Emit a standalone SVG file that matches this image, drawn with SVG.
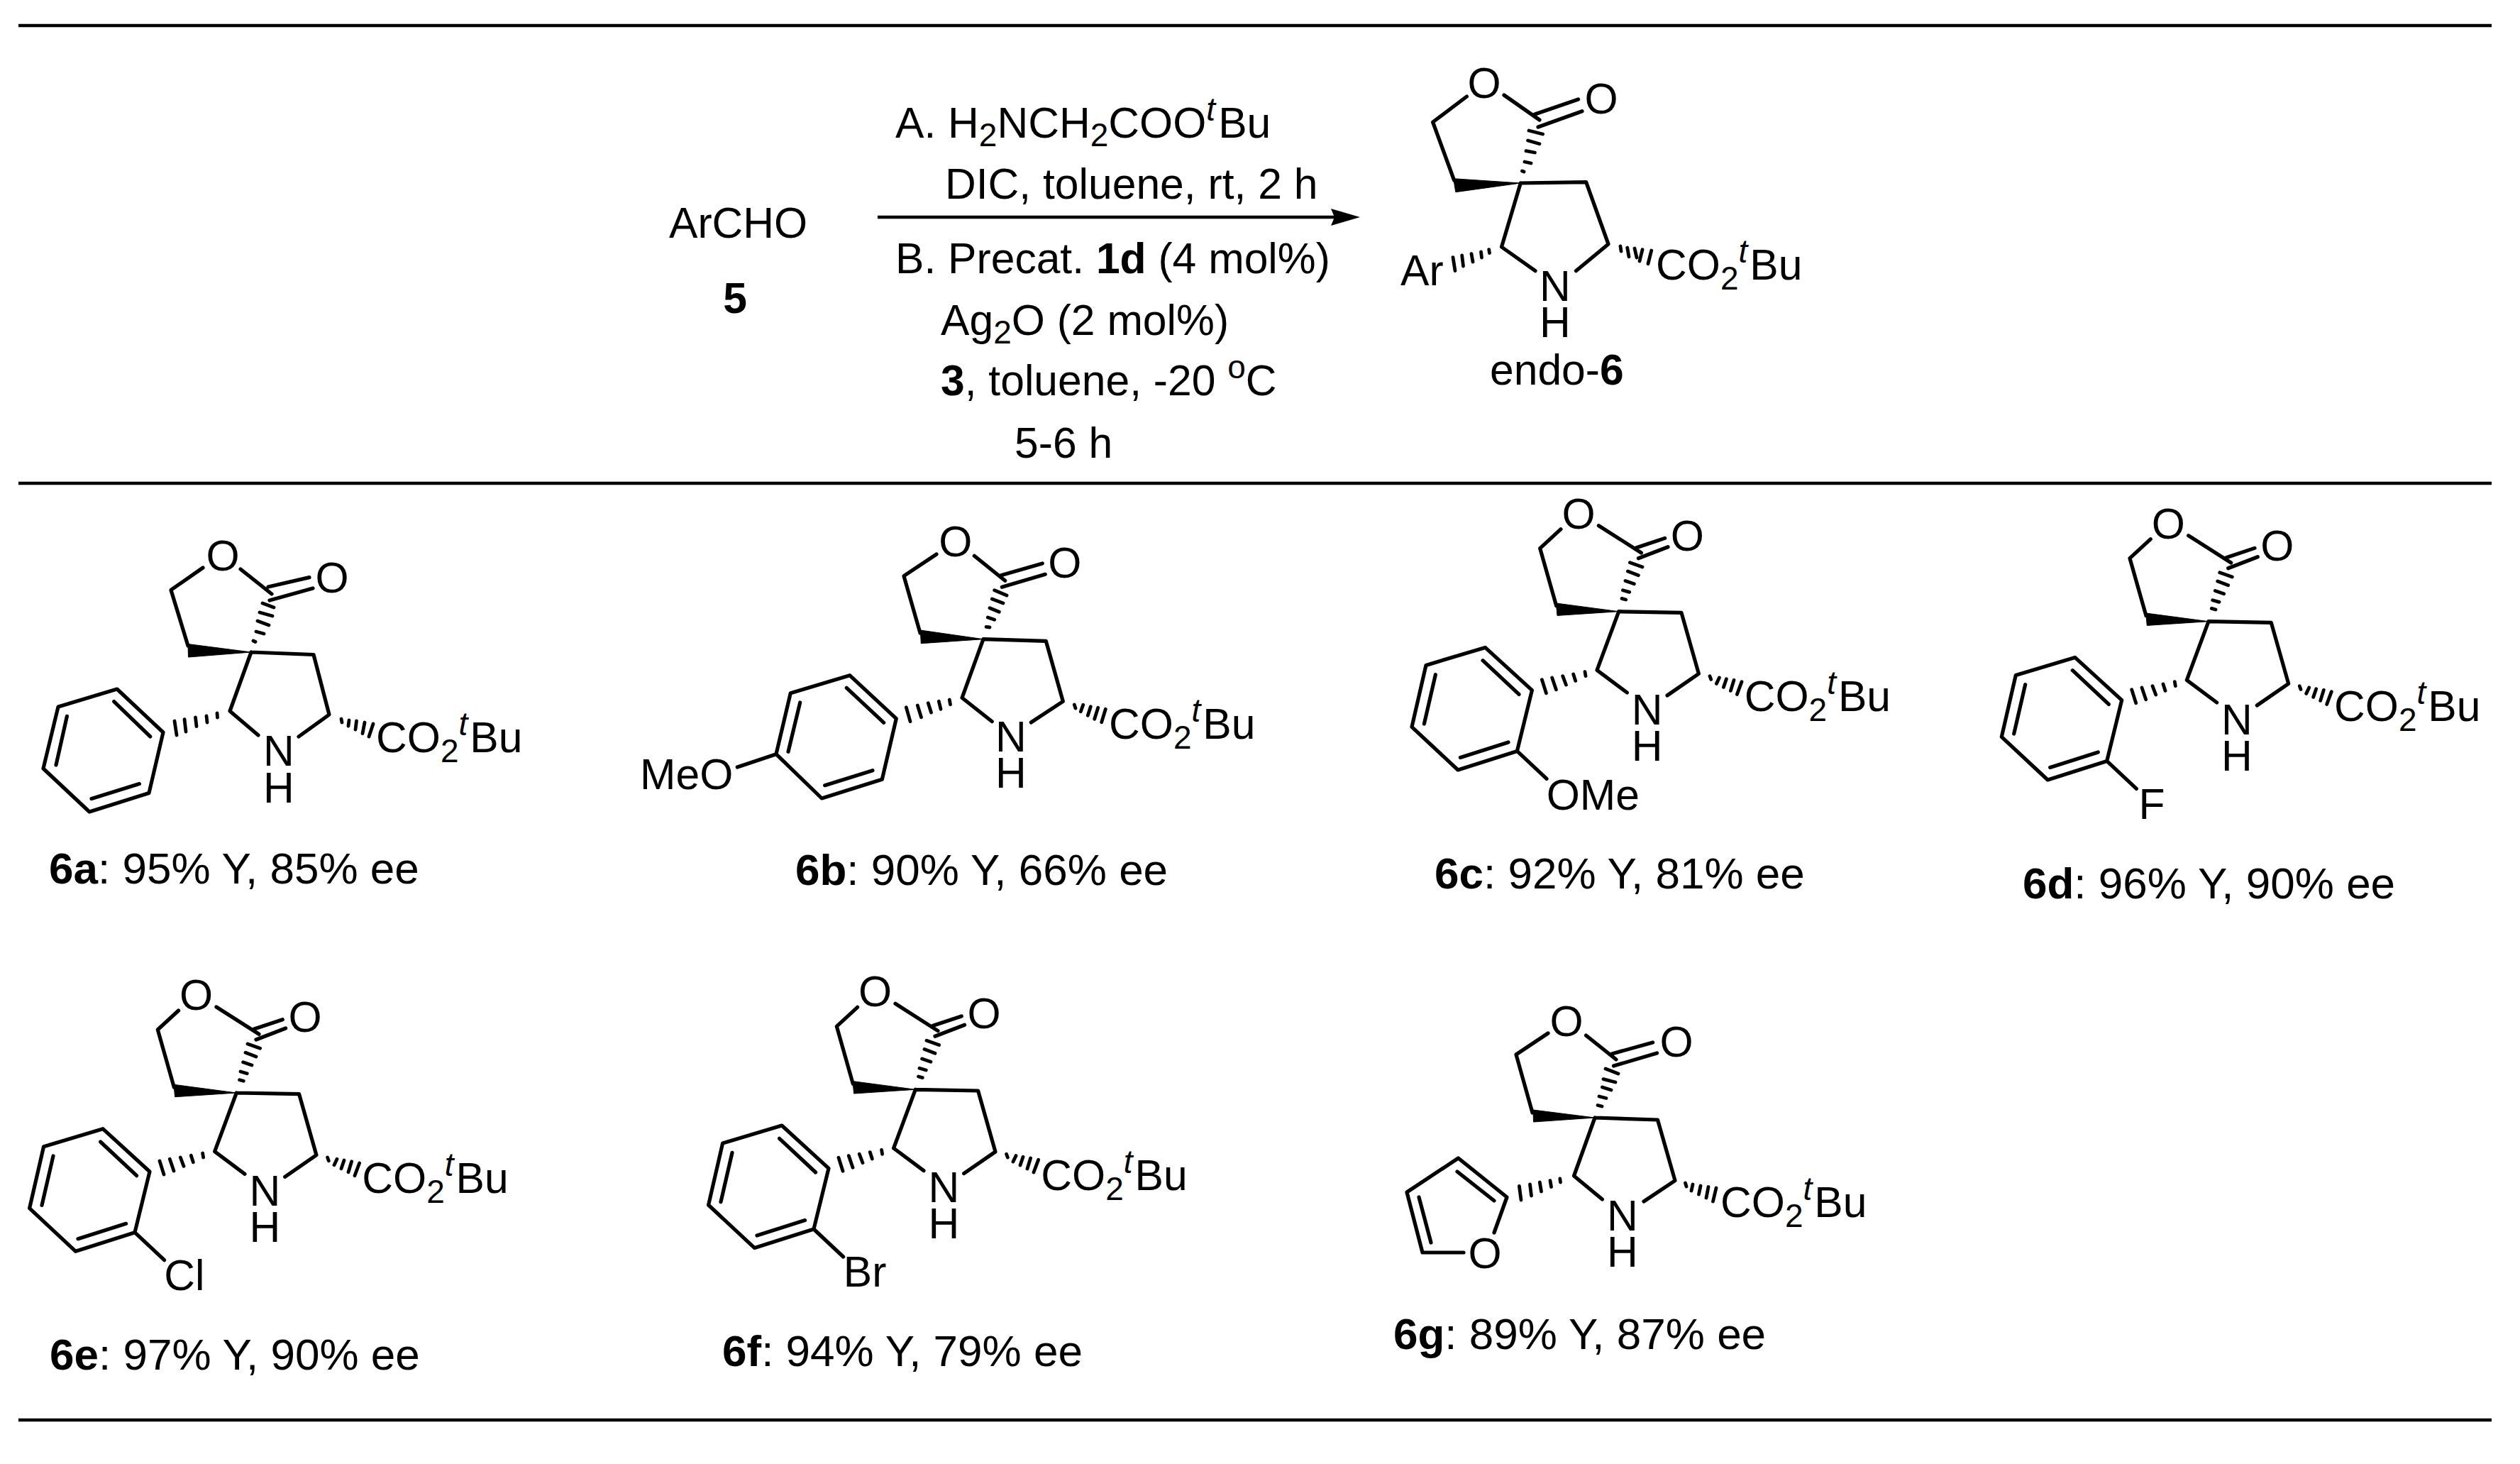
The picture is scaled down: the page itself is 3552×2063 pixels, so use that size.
<svg xmlns="http://www.w3.org/2000/svg" xmlns:xlink="http://www.w3.org/1999/xlink" width="3552" height="2063" viewBox="0 0 3552 2063">
<style>
text{font-family:"Liberation Sans",Arial,sans-serif;font-size:60.6px;fill:#000}
.m{text-anchor:middle}
.s{font-size:46px}
.i{font-size:46px;font-style:italic}
.bd{font-weight:bold}
.l{font-size:62px}
.b{fill:none;stroke:#000;stroke-width:5.2;stroke-linecap:round;stroke-linejoin:round}
.h{fill:none;stroke:#000;stroke-width:4.8;stroke-linecap:round}
.w{fill:#000;stroke:#000;stroke-width:1;stroke-linejoin:round}
.r{stroke:#000;stroke-width:4.4;fill:none}
.a{stroke:#000;stroke-width:4.6;fill:none}
</style>
<defs>
<marker id="ah" markerUnits="userSpaceOnUse" markerWidth="44" markerHeight="28" refX="9" refY="14" orient="auto"><path d="M0,2 L41,14 L0,26 L5,14 Z" fill="#000"/></marker>
<g id="core">
<path class="b" d="M-81.7,-116 L-111,-89 L-88,-8"/>
<polygon class="w" points="-88.3,-11.7 -86.7,5.7 0,0"/>
<path class="b" d="M0,0 L88.3,1.7 L112.7,87.7 L68.3,118.3 M0,0 L-30.7,82.7 L11.7,114.3 M-28.3,-121 L31.7,-82.7 M25,-90 L65,-103.3 M27.7,-75 L69.3,-91"/>
<path class="h" d="M4.3,-18.3 L10,-16.7 M5.7,-30 L15,-27.3 M9.3,-43.3 L21.7,-39 M12.7,-56.7 L27.7,-51 M15.7,-69 L33.3,-62.7"/>
<path class="h" d="M-47.7,85 L-46.7,91 M-64,88.3 L-61,97.7 M-79,91 L-74.3,103.3 M-94,93.3 L-88.3,110 M-108.3,96 L-102.3,115"/>
<path class="h" d="M128.3,91 L130,95.7 M141.7,93.3 L137.7,101.7 M151.7,95 L147.7,106.7 M162.3,96.7 L157.7,111.7 M173.3,99 L166.7,116.7"/>
<path class="b" d="M-122.3,111 L-188.3,50.7 L-271.7,75.7 L-291.7,162.7 L-226.7,223.3 L-143.3,196.7 Z M-191.7,69 L-140.7,116.7 M-258.3,89 L-274.3,158.3 M-223.3,205.7 L-155.7,184.3 M-143.3,196.7 L-101.7,235.7"/>
</g>
</defs>
<rect width="3552" height="2063" fill="#fff"/>

<g id="connectors">
<path class="r" d="M26,36 H3512 M26,681 H3512 M26,2001 H3512"/>
<path class="a" d="M1237,306 H1885" marker-end="url(#ah)"/>
</g>

<g id="reagent-5">
<text x="943" y="335">ArCHO</text>
<text class="m bd" x="1036" y="441">5</text>
</g>
<g id="conditions">
<text x="1262" y="194">A. H<tspan class="s" dy="12">2</tspan><tspan dy="-12">NCH</tspan><tspan class="s" dy="12">2</tspan><tspan dy="-12">COO</tspan><tspan class="i" dy="-24">t</tspan><tspan dy="24" dx="4">Bu</tspan></text>
<text x="1332" y="280">DIC, toluene, rt, 2 h</text>
<text x="1262" y="385">B. Precat. <tspan class="bd">1d</tspan> (4 mol%)</text>
<text x="1326" y="472">Ag<tspan class="s" dy="12">2</tspan><tspan dy="-12">O (2 mol%)</tspan></text>
<text x="1326" y="557"><tspan class="bd">3</tspan>, toluene, -20 <tspan class="s" dy="-24">o</tspan><tspan dy="24">C</tspan></text>
<text x="1430" y="645">5-6 h</text>
</g>

<g id="endo-6">
<path class="b" d="M2067.4,136 L2019.6,172 L2049.6,254"/>
<polygon class="w" points="2048.7,251.7 2051.8,270.7 2143.3,258"/>
<path class="b" d="M2143.3,258 L2235.7,256.7 L2267,344 L2221.4,381.7 M2143.3,258 L2116.5,348 L2164,381.7 M2120,134 L2170,169 M2163.4,161 L2224.6,140 M2168,179 L2230,156.7"/>
<path class="h" d="M2145.5,241 L2148,242 M2149,228 L2158,230 M2151,212.7 L2163.4,215 M2153.6,198 L2170,202.7 M2155,184 L2174.6,189"/>
<path class="h" d="M2098.7,351.7 L2099.5,356.7 M2087.5,355 L2088.5,363 M2074,357.7 L2076,369 M2060.7,360 L2062.5,375 M2048,362.7 L2051,381.7"/>
<path class="h" d="M2284,347 L2285,354 M2293.7,349 L2296,361.7 M2304,350 L2307,363 M2315,351.7 L2311,368 M2327.7,353 L2323,371.7"/>
<text class="m" x="2092" y="138">O</text>
<text class="m" x="2257" y="160">O</text>
<text x="1974" y="402">Ar</text>
<text class="m" x="2192" y="424">N</text>
<text class="m" x="2192" y="475">H</text>
<text x="2334" y="394">CO<tspan class="s" dy="14">2</tspan><tspan class="i" dy="-38">t</tspan><tspan dy="24" dx="3">Bu</tspan></text>
<text x="2100" y="542">endo-<tspan class="bd">6</tspan></text>
</g>

<g id="compound-6a">
<path class="b" d="M286,800 L241,831.4 L265,910"/>
<polygon class="w" points="265,907.5 265.5,926 354,919"/>
<path class="b" d="M354,919 L442,922.5 L464,1007 L421,1038 M354,919 L324,1002 L364,1036 M339,802 L383,837 M378,827 L436,813.6 M380,846 L441,829"/>
<path class="h" d="M357,903 L360,904.5 M361,890 L372,893 M363,875 L379,881 M366,863 L384,868 M370,850 L386,856"/>
<path class="h" d="M306,1005 L306.5,1011 M291,1009 L292,1018 M275.5,1011 L277,1023.6 M260,1013.6 L262,1031 M246,1016 L249,1036"/>
<path class="h" d="M481,1013 L482,1018 M492,1015 L491,1023 M502.5,1016 L501,1028 M514,1018 L511,1033.6 M526,1020 L520,1038"/>
<path class="b" d="M230,1032 L165,971 L82,996 L61,1083 L126,1144 L210,1117.5 Z M160.7,988.6 L211.7,1037.9 M94.4,1009.3 L79,1078 M129,1125.4 L196.4,1104.6"/>
<text class="m" x="314" y="804">O</text>
<text class="m" x="468" y="835">O</text>
<text class="m" x="393" y="1079">N</text>
<text class="m" x="393" y="1131">H</text>
<text x="530" y="1060">CO<tspan class="s" dy="14">2</tspan><tspan class="i" dy="-38">t</tspan><tspan dy="24" dx="3">Bu</tspan></text>
<text class="l" x="69" y="1245"><tspan class="bd">6a</tspan>: 95% Y, 85% ee</text>
</g>

<g id="compound-6b">
<path class="b" d="M1320,781 L1274,811.7 L1297,892"/>
<polygon class="w" points="1297.3,888 1298.3,906.7 1386,900.7"/>
<path class="b" d="M1386,900.7 L1474.3,903.3 L1498.3,988.3 L1453.3,1018 M1386,900.7 L1356,983.3 L1398.3,1016.7 M1373.3,783.3 L1416.7,818.3 M1411,810.7 L1469.3,794 M1412.3,827.3 L1473.3,809.3"/>
<path class="h" d="M1390,883.3 L1395,884 M1392.3,870 L1401.7,873.3 M1395,856.7 L1408.3,862.3 M1398.3,844 L1414,850 M1401.7,831.7 L1419,839"/>
<path class="h" d="M1338.3,986 L1339.5,992.7 M1323.3,988.3 L1326,999.3 M1308.3,990.7 L1312.5,1004 M1293.3,994 L1298.5,1010.7 M1277.3,996.7 L1283,1016.7"/>
<path class="h" d="M1514.3,993 L1516,998 M1526.7,993.3 L1523.3,1002.7 M1537.3,995.7 L1533.3,1008.3 M1547.7,997.3 L1542.7,1013.3 M1558.3,999.3 L1552.7,1017.7"/>
<path class="b" d="M1263.3,1012.7 L1197.7,951.7 L1114.3,976.7 L1094,1062.7 L1158.3,1125 L1243.3,1098.3 Z M1193.3,969.3 L1245.7,1018.3 M1127.7,990 L1111,1059.3 M1162.7,1106.7 L1230,1085.7 M1094,1062.7 L1039.3,1081"/>
<text class="m" x="1346.7" y="784">O</text>
<text class="m" x="1500.7" y="814">O</text>
<text class="m" x="1425" y="1059">N</text>
<text class="m" x="1425" y="1110">H</text>
<text x="902" y="1112">MeO</text>
<text x="1563" y="1041">CO<tspan class="s" dy="14">2</tspan><tspan class="i" dy="-38">t</tspan><tspan dy="24" dx="3">Bu</tspan></text>
<text class="l" x="1121" y="1247"><tspan class="bd">6b</tspan>: 90% Y, 66% ee</text>
</g>

<g id="compound-6c">
<use href="#core" xlink:href="#core" x="2281.7" y="861.7"/>
<text class="m" x="2225" y="744.7">O</text>
<text class="m" x="2378.4" y="775.7">O</text>
<text class="m" x="2321.7" y="1020.7">N</text>
<text class="m" x="2321.7" y="1071.7">H</text>
<text x="2179.7" y="1140.7">OMe</text>
<text x="2458.7" y="1001.7">CO<tspan class="s" dy="14">2</tspan><tspan class="i" dy="-38">t</tspan><tspan dy="24" dx="3">Bu</tspan></text>
<text class="l" x="2022" y="1252"><tspan class="bd">6c</tspan>: 92% Y, 81% ee</text>
</g>

<g id="compound-6d">
<use href="#core" xlink:href="#core" x="3113" y="875.7"/>
<text class="m" x="3056.3" y="758.7">O</text>
<text class="m" x="3209.7" y="789.7">O</text>
<text class="m" x="3153" y="1034.7">N</text>
<text class="m" x="3153" y="1085.7">H</text>
<text x="3014.5" y="1153.7">F</text>
<text x="3290" y="1015.7">CO<tspan class="s" dy="14">2</tspan><tspan class="i" dy="-38">t</tspan><tspan dy="24" dx="3">Bu</tspan></text>
<text class="l" x="2851" y="1266"><tspan class="bd">6d</tspan>: 96% Y, 90% ee</text>
</g>

<g id="compound-6e">
<use href="#core" xlink:href="#core" x="333.3" y="1540"/>
<text class="m" x="276.6" y="1423">O</text>
<text class="m" x="430" y="1454">O</text>
<text class="m" x="373.3" y="1699">N</text>
<text class="m" x="373.3" y="1750">H</text>
<text x="231.3" y="1818">Cl</text>
<text x="510.3" y="1681">CO<tspan class="s" dy="14">2</tspan><tspan class="i" dy="-38">t</tspan><tspan dy="24" dx="3">Bu</tspan></text>
<text class="l" x="70" y="1930"><tspan class="bd">6e</tspan>: 97% Y, 90% ee</text>
</g>

<g id="compound-6f">
<use href="#core" xlink:href="#core" x="1290.3" y="1535.3"/>
<text class="m" x="1233.6" y="1418.3">O</text>
<text class="m" x="1387" y="1449.3">O</text>
<text class="m" x="1330.3" y="1694.3">N</text>
<text class="m" x="1330.3" y="1745.3">H</text>
<text x="1188.8" y="1813.3">Br</text>
<text x="1467.3" y="1677">CO<tspan class="s" dy="14">2</tspan><tspan class="i" dy="-38">t</tspan><tspan dy="24" dx="3">Bu</tspan></text>
<text class="l" x="1018" y="1925"><tspan class="bd">6f</tspan>: 94% Y, 79% ee</text>
</g>

<g id="compound-6g">
<path class="b" d="M2182,1456 L2137,1486 L2160,1568"/>
<polygon class="w" points="2161,1564 2161.5,1581 2248,1575"/>
<path class="b" d="M2248,1575 L2336.5,1578 L2361,1663.6 L2317,1693 M2248,1575 L2218.5,1657 L2258.4,1690 M2235.5,1459 L2278,1493 M2272,1485 L2329.6,1469 M2274.5,1502 L2335.6,1484"/>
<path class="h" d="M2252,1557.5 L2258,1559 M2254,1545 L2264,1547.5 M2258.4,1532 L2271,1536 M2260,1520.7 L2277,1525 M2263,1506 L2281,1513"/>
<path class="h" d="M2198.8,1661 L2199.5,1666 M2185,1663.6 L2186.5,1672.5 M2170.3,1666 L2172.5,1679 M2156.5,1669 L2158.5,1685 M2141.4,1671.4 L2144,1691"/>
<path class="h" d="M2375.5,1667 L2377,1672 M2386,1669 L2384,1678 M2397,1671 L2394.5,1683 M2408,1672.5 L2405,1688 M2419,1674 L2414.5,1693"/>
<path class="b" d="M2106,1737 L2124,1687 L2055.5,1632 L1983,1680 L2005,1765 L2063,1765 M2054,1651 L2106,1692 M2000,1687 L2017,1751"/>
<text class="m" x="2208" y="1460">O</text>
<text class="m" x="2363" y="1489">O</text>
<text class="m" x="2093" y="1787">O</text>
<text class="m" x="2287" y="1734">N</text>
<text class="m" x="2287" y="1785">H</text>
<text x="2425" y="1715">CO<tspan class="s" dy="14">2</tspan><tspan class="i" dy="-38">t</tspan><tspan dy="24" dx="3">Bu</tspan></text>
<text class="l" x="1964" y="1901"><tspan class="bd">6g</tspan>: 89% Y, 87% ee</text>
</g>
</svg>
